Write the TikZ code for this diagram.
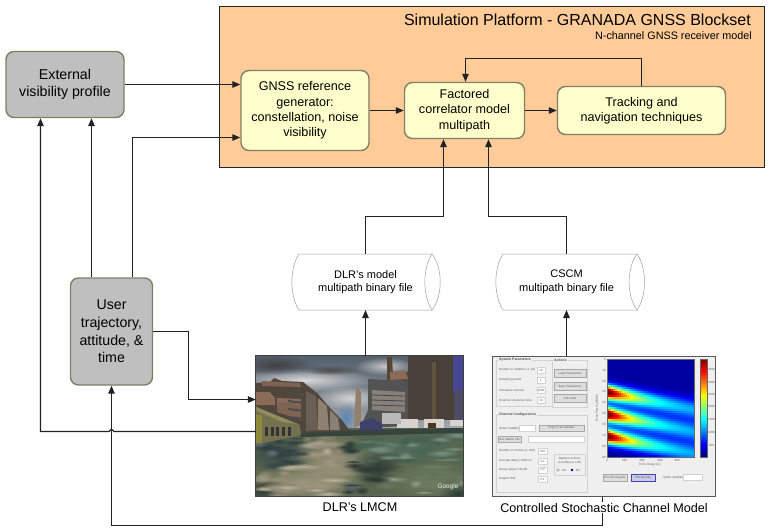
\documentclass[tikz,border=0pt]{standalone}
\usepackage{fontspec}
\setmainfont{Liberation Sans}
\usetikzlibrary{arrows.meta,calc,fadings}
\definecolor{platform}{HTML}{FFCC99}
\definecolor{inner}{HTML}{FFFFCC}
\definecolor{outerg}{HTML}{BFBFBF}
\definecolor{edgeg}{HTML}{7F7F66}
\definecolor{linec}{HTML}{222222}
\definecolor{uiback}{HTML}{EFEFEF}
\definecolor{uiline}{HTML}{D2D2D2}
\definecolor{uibtn}{HTML}{DEDEDE}
\definecolor{uitext}{HTML}{606060}
\definecolor{gdark}{HTML}{36464A}
\definecolor{ggreen}{HTML}{4F6E5A}
\definecolor{gmoss}{HTML}{6E7F62}
\definecolor{gbeige}{HTML}{A39A80}
\definecolor{gshade}{HTML}{2C3A36}
\definecolor{skyblue}{HTML}{5A86B4}
\definecolor{roofa}{HTML}{8C6A58}
\definecolor{roofb}{HTML}{7E6252}
\tikzfading[name=softblob,inner color=transparent!0,outer color=transparent!100]
\tikzset{
  roundbox/.style={rounded corners=8pt,line width=1.4pt,draw=edgeg,align=center,inner sep=0pt,text=black},
  graybox/.style={roundbox,fill=outerg,font=\fontsize{14.2}{17.6}\selectfont},
  yellowbox/.style={roundbox,fill=inner,font=\fontsize{12.6}{15.3}\selectfont},
  arr/.style={line width=1.25pt,draw=linec,-{Triangle[length=8pt,width=6.5pt]}},
  cyl/.style={line width=.5pt,draw=gray!75!white},
  cyltext/.style={font=\fontsize{11}{13.6}\selectfont,align=center,inner sep=0pt},
  caption/.style={font=\fontsize{12.6}{15}\selectfont,fill=white,inner sep=1pt},
  uipanel/.style={draw=uiline,line width=.6pt},
  uibutton/.style={draw=gray!70,fill=uibtn,line width=.4pt},
  uifield/.style={draw=uiline,fill=white,line width=.3pt},
  uilabel/.style={font=\fontsize{3}{4}\selectfont,text=uitext,inner sep=0pt,anchor=west},
  uimid/.style={font=\fontsize{3}{3.6}\selectfont,text=uitext,inner sep=0pt},
  uihead/.style={font=\bfseries\fontsize{3.4}{4}\selectfont,text=uitext!80!black,inner sep=1pt,anchor=west,fill=uiback},
}
\newcommand{\softblob}[5]{\fill[#5,path fading=softblob] (#1,#2) ellipse [x radius=#3,y radius=#4];}
\begin{document}
\begin{tikzpicture}[x=1pt,y=-1pt]
\useasboundingbox (0,0) rectangle (776,531);
\fill[white] (0,0) rectangle (776,531);

% platform
\node[draw=black!85,line width=1pt,fill=platform,minimum width=545pt,minimum height=161pt,inner sep=0pt] (platform) at (491.5,86.5) {};
\node[font=\fontsize{16}{17}\selectfont,anchor=east,inner sep=0pt] (title) at (751,20) {Simulation Platform - GRANADA GNSS Blockset};
\node[font=\fontsize{10.8}{12}\selectfont,anchor=east,inner sep=0pt] (subtitle) at (752,36) {N-channel GNSS receiver model};

% boxes
\node[graybox,minimum width=118pt,minimum height=66pt] (ext) at (65,84.5) {External\\visibility profile};
\node[graybox,minimum width=82pt,minimum height=107pt] (user) at (111.5,331.5) {User\\trajectory,\\attitude, \&\\time};
\node[yellowbox,minimum width=128pt,minimum height=80pt] (gnss) at (305,110.5) {GNSS reference\\generator:\\constellation, noise\\visibility};
\node[yellowbox,minimum width=120pt,minimum height=56pt] (corr) at (464.5,110.5) {Factored\\correlator model\\multipath};
\node[yellowbox,minimum width=168pt,minimum height=48pt] (track) at (641.5,110.5) {Tracking and\\navigation techniques};

% photo
\node[minimum width=207pt,minimum height=140pt,inner sep=0pt] (photo) at (359.5,426) {};
\begin{scope}
\clip (256,356) rectangle (463,496);
\shade[top color={rgb,255:red,84;green,96;blue,108},bottom color={rgb,255:red,165;green,171;blue,176}] (256,356) rectangle (463,432);
\softblob{305}{380}{70}{12}{white!70!gray}
\softblob{350}{398}{36}{12}{white!65!gray}
\softblob{385}{366}{30}{9}{white!55!gray}
\softblob{275}{365}{40}{10}{black!50!gray}
\softblob{330}{370}{30}{5}{black!40!gray}
\softblob{346}{418}{11}{16}{skyblue}
% ground
\fill[gmoss!80!black] (256,431) -- (300,428) -- (463,428) -- (463,496) -- (256,496) -- cycle;
\softblob{280}{454}{40}{18}{gdark}
\softblob{332}{462}{46}{32}{gbeige}
\softblob{415}{448}{66}{18}{ggreen}
\softblob{378}{468}{30}{18}{gshade}
\softblob{300}{484}{60}{20}{gbeige}
\softblob{430}{480}{50}{24}{gmoss}
\softblob{262}{490}{24}{14}{gshade}
\softblob{458}{494}{20}{10}{gshade}
\pgfmathsetseed{7}
\foreach \i in {1,...,150}{
  \pgfmathsetmacro{\bx}{256+207*rnd}
  \pgfmathsetmacro{\by}{434+62*rnd}
  \pgfmathsetmacro{\brx}{6+14*rnd}
  \pgfmathsetmacro{\bry}{1.5+3.5*rnd}
  \pgfmathtruncatemacro{\bmix}{55+60*rnd}
  \pgfmathtruncatemacro{\breg}{(\bx<305&&\by<466)?1:((\bx>360&&\by<462)?2:((\bx>385)?3:((\bx>345)?5:4)))}
  \ifcase\breg\or\colorlet{bc}{gdark}\or\colorlet{bc}{ggreen}\or\colorlet{bc}{gmoss}\or\colorlet{bc}{gbeige}\or\colorlet{bc}{gshade}\fi
  \ifnum\bmix>100 \colorlet{bd}{bc!75!white}\else\colorlet{bd}{bc!\bmix!black!35!bc}\fi
  \softblob{\bx}{\by}{\brx}{\bry}{bd}
}
\fill[gshade!85!gmoss] (300,431) -- (463,428) -- (463,433) -- (300,437) -- cycle;
% left buildings
\fill[black!75!brown!60!gray] (256,383) -- (270,382) -- (274,378) -- (282,381) -- (303,382) -- (317,393) -- (330,408) -- (342,420) -- (350,431) -- (300,433) -- (256,440) -- cycle;
\fill[black!30!gray!85!brown] (306,391) -- (316,396) -- (318,430) -- (306,431) -- cycle;
\fill[gray!75!brown] (318,398) -- (327,406) -- (329,430) -- (318,430) -- cycle;
\fill[gray!85!brown] (330,410) -- (338,418) -- (340,430) -- (330,430) -- cycle;
\fill[roofa] (256,392) -- (270,392) -- (275,398) -- (275,405) -- (256,405) -- cycle;
\fill[roofa] (277,398) -- (301,399) -- (301,404) -- (277,403) -- cycle;
\fill[roofb] (262,381) -- (300,383) -- (301,387) -- (262,386) -- cycle;
\fill[roofb] (277,403) -- (301,404) -- (301,420) -- (277,412) -- cycle;
\foreach \yy in {392,400,408,416}{\fill[black!70] (288,\yy) -- (305,\yy+2) -- (305,\yy+4) -- (288,\yy+2) -- cycle;}
% low building
\fill[black!45!olive!55!gray] (256,407) -- (300,425) -- (301,435) -- (258,444) -- (256,444) -- cycle;
\fill[olive!35!gray] (256,407) -- (298,424) -- (282,422) -- (257,411) -- cycle;
\foreach \xx in {265,271,276,282,288}{\fill[black!80] (\xx,427) rectangle (\xx+3,436);}
\fill[olive!60!gray] (256,415) rectangle (262,443);
% right buildings
\fill[gray!70!brown] (356,386) -- (361,392) -- (361,425) -- (354,428) -- cycle;
\fill[black!35!gray] (368,379) -- (408,381) -- (408,426) -- (360,428) -- (368,410) -- cycle;
\fill[gray!90!brown] (372,390) -- (405,392) -- (405,412) -- (372,410) -- cycle;
\foreach \yy in {395,400,405}{\draw[black!45!gray,line width=.8pt] (372,\yy) -- (405,\yy+1);}
\fill[black!65!brown!70!gray] (387,357) -- (392,357) -- (393,375) -- (408,372) -- (408,381) -- (387,380) -- cycle;
\fill[roofa] (390,372) -- (405,370) -- (408,379) -- (390,380) -- cycle;
\fill[black!82!brown!60!gray] (408,356) -- (454,356) -- (454,420) -- (408,420) -- cycle;
\fill[black!60!brown!60!gray] (432,362) rectangle (436,420);
\fill[blue!35!gray!85!black] (453,356) rectangle (463,392);
\fill[black!75!blue!40!gray] (454,390) rectangle (463,423);
\fill[brown!20!gray!35!white] (397,419) rectangle (418,428);
\fill[brown!20!gray!35!white] (424,419) rectangle (444,428);
\fill[brown!20!gray!35!white] (450,420) rectangle (463,426);
\fill[black!60!brown] (428,423) rectangle (436,428);
\fill[gray!55!white] (382,413) rectangle (401,424);
\fill[black!65!blue!50!gray] (360,422) -- (372,418) -- (382,424) -- (382,430) -- (360,430) -- cycle;
\node[font=\fontsize{6.5}{7}\selectfont,text=white!90!gray,inner sep=0pt] (google) at (448,487) {Google};
\end{scope}
\draw[line width=.8pt,draw=black!75] (photo.north west) rectangle (photo.south east);

% screenshot
\node[draw=black!65,line width=1pt,fill=uiback,minimum width=223pt,minimum height=140pt,inner sep=0pt] (shot) at (603.5,426) {};
% system panel
\draw[uipanel] (496,360) rectangle (552,406);
\node[uihead] (h1) at (498,360) {System Parameters};
\draw[uipanel] (552,360) rectangle (587,407);
\node[uihead] (h2) at (553,360) {Actions};
\node[uilabel] (l1) at (499,370) {Number of satellites (1..16)};
\node[uilabel] (l2) at (499,380) {Sampling period};
\node[uilabel] (l3) at (499,390) {Simulation interval};
\node[uilabel] (l4) at (499,400) {Channel coherence time};
\foreach \yy/\tt in {370/16,380/1,390/1000,400/10}{
  \draw[uifield] (537,\yy-3) rectangle (545,\yy+3);
  \node[uimid] at (541,\yy) {\tt};
}
\foreach \yy/\tt in {373/Load Parameters,386/Save Parameters,398/Calculate}{
  \draw[uibutton] (554,\yy-4) rectangle (586,\yy+4);
  \node[uimid] at (570,\yy) {\tt};
}
% channel panel
\draw[uipanel] (496,415) rectangle (587,492);
\node[uihead] (h3) at (498,415) {Channel Configuration};
\node[uilabel] (l5) at (499,428) {Select Satellite};
\draw[uifield] (519,425) rectangle (535,431);
\draw[uibutton] (539,425) rectangle (584,431);
\node[uimid] (b1) at (561.5,428) {Copy to all satellites};
\draw[uibutton] (498,436) rectangle (521,442);
\node[uimid] (b2) at (509.5,439) {Get Station File};
\draw[uifield] (528,436) rectangle (584,442);
\foreach \yy/\aa/\tt in {451/Number of echoes (1..100)/100,461/Average delay (<100 ns)/0.2,470/Decay slope (<30 dB/ns)/20,479/Doppler BW/0.4}{
  \node[uilabel] at (499,\yy) {\aa};
  \draw[uifield] (538,\yy-3) rectangle (547,\yy+3);
  \node[uimid] at (542.5,\yy) {\tt};
}
\draw[uipanel] (554,454) rectangle (585,475);
\node[uimid,align=center] (b3) at (569.5,461) {Replace echoes\\according to LOS};
\node[uimid] (b4) at (564,470) {Yes};
\node[uimid] (b5) at (578,470) {No};
\draw[gray,line width=.3pt] (558,470) circle (1.3);
\fill[blue!50!black] (572,470) circle (1.3);

% heat map
\foreach \px in {0,2,...,86}{
  \pgfmathsetmacro{\amp}{0.22+0.88*exp(-\px/28)}
  \pgfmathsetmacro{\sg}{7.2+0.03*\px}
  \foreach \py in {0,2,...,96}{
    \pgfmathsetmacro{\ya}{\py-(32.5+0.2*\px)}
    \pgfmathsetmacro{\yb}{\py-(54.5+0.2*\px)}
    \pgfmathsetmacro{\yc}{\py-(76.5+0.2*\px)}
    \pgfmathsetmacro{\gv}{min(1,0.03+\amp*(exp(-(\ya*\ya)/(\sg*\sg))+exp(-(\yb*\yb)/(\sg*\sg))+exp(-(\yc*\yc)/(\sg*\sg))))}
    \pgfmathsetmacro{\cr}{max(0,min(1,1.5-abs(4*\gv-3)))}
    \pgfmathsetmacro{\cg}{max(0,min(1,1.5-abs(4*\gv-2)))}
    \pgfmathsetmacro{\cb}{max(0,min(1,1.5-abs(4*\gv-1)))}
    \definecolor{heatc}{rgb}{\cr,\cg,\cb}
    \fill[heatc] (607+\px,359+\py) rectangle (609.3+\px,361.3+\py);
  }
}
\node[draw=black!60,line width=.4pt,minimum width=87pt,minimum height=98pt,inner sep=0pt] (heat) at (650.5,408) {};
% colour bar
\foreach \py in {0,...,97}{
  \pgfmathsetmacro{\gv}{1-\py/97}
  \pgfmathsetmacro{\cr}{max(0,min(1,1.5-abs(4*\gv-3)))}
  \pgfmathsetmacro{\cg}{max(0,min(1,1.5-abs(4*\gv-2)))}
  \pgfmathsetmacro{\cb}{max(0,min(1,1.5-abs(4*\gv-1)))}
  \definecolor{heatc}{rgb}{\cr,\cg,\cb}
  \fill[heatc] (700,359+\py) rectangle (707,360.3+\py);
}
\node[draw=black!60,line width=.4pt,minimum width=7pt,minimum height=98pt,inner sep=0pt] (cbar) at (703.5,408) {};
\foreach \yy/\tt in {445/500,432/1000,419/1500,406/2000,394/2500,382/3000,369/3500}{
  \node[uimid] at (711.5,\yy) {\tt};
}
\foreach \xx/\tt in {607/0,624.5/100,642/200,660/300,677/400}{
  \node[uimid] at (\xx,460.5) {\tt};
}
\foreach \yy/\tt in {359/0,370/10,381/20,391.5/30,402.5/40,413/50,424/60,435/70,446/80,457/90}{
  \node[uimid,anchor=east] at (606,\yy) {\tt};
}
\node[uimid] (xlab) at (650,464.5) {Echo Delay (ns)};
\node[uimid,rotate=90] (ylab) at (597,408) {Echo Power (dB/10)};
\draw[uibutton] (603,474) rectangle (627,481);
\node[uimid] (b6) at (615,477.5) {Plot 3D Graphic};
\draw[uibutton,draw=blue!50!gray,fill=blue!8!uibtn] (631,474) rectangle (655,481);
\node[uimid] (b7) at (643,477.5) {Plot Density};
\node[uimid] (b8) at (673,477) {Select Satellite};
\draw[uifield] (683,474.5) rectangle (702,480);

% cylinders
\coordinate (c1tl) at (299,254); \coordinate (c1tr) at (432,254);
\coordinate (c1bl) at (299,310); \coordinate (c1br) at (432,310);
\draw[cyl,fill=white] (c1tl) -- (c1tr) .. controls (443,268) and (443,296) .. (c1br) -- (c1bl) .. controls (289.5,296) and (289.5,268) .. (c1tl);
\draw[cyl] (c1tr) .. controls (422.5,268) and (422.5,296) .. (c1br);
\node[cyltext] (dlrfile) at (365.5,282) {DLR's model\\multipath binary file};
\coordinate (c2tl) at (503,254); \coordinate (c2tr) at (637,254);
\coordinate (c2bl) at (503,310); \coordinate (c2br) at (637,310);
\draw[cyl,fill=white] (c2tl) -- (c2tr) .. controls (647,268) and (647,296) .. (c2br) -- (c2bl) .. controls (493.5,296) and (493.5,268) .. (c2tl);
\draw[cyl] (c2tr) .. controls (626.5,268) and (626.5,296) .. (c2br);
\node[cyltext] (cscmfile) at (566.5,282) {CSCM\\multipath binary file};
\coordinate (c1n) at (365.5,254); \coordinate (c1s) at (365.5,310);
\coordinate (c2n) at (566.5,254); \coordinate (c2s) at (566.5,310);

% connectors
\draw[arr] (ext.east) -- (ext.east -| gnss.west);
\coordinate (ug) at (132.5,137.5);
\draw[arr] (user.north -| ug) -- (ug) -- (ug -| gnss.west);
\draw[arr] (gnss.east) -- (corr.west);
\draw[arr] (corr.east) -- (track.west);
\coordinate (fb) at (465.5,58.5);
\draw[arr] (track.north) |- (fb) -- (fb |- corr.north);
\coordinate (ua) at (91.5,277);
\draw[arr] (ua |- user.north) -- (ua |- ext.south);
\coordinate (ub) at (188.5,399.5);
\coordinate (uc) at (188.5,331.5);
\draw[arr] (user.east |- uc) -- (uc) -- (ub) -- (ub -| photo.west);
\coordinate (j) at (111.5,431.5);
\coordinate (el) at (40.5,431.5);
\draw[arr] (photo.west |- j) -- ($(j)+(2.6,0)$) .. controls ($(j)+(1.6,0)$) and ($(j)+(1.6,-2.2)$) .. ($(j)+(0,-2.2)$) .. controls ($(j)+(-1.6,-2.2)$) and ($(j)+(-1.6,0)$) .. ($(j)+(-2.6,0)$) -- (el) -- (el |- ext.south);
\coordinate (bot) at (602.5,525.5);
\draw[arr] (bot |- shot.south) -- (bot) -- (bot -| user.south) -- (user.south);
\draw[arr] (c1s |- photo.north) -- (c1s);
\draw[arr] (c2s |- shot.north) -- (c2s);
\coordinate (d1) at (443.5,216.5);
\coordinate (d2) at (488.5,216.5);
\draw[arr] (c1n) |- (d1) -- (d1 |- corr.south);
\draw[arr] (c2n) |- (d2) -- (d2 |- corr.south);

% captions
\node[caption] (cap1) at (360,507.5) {DLR's LMCM};
\node[caption] (cap2) at (604,507.5) {Controlled Stochastic Channel Model};
\end{tikzpicture}
\end{document}
